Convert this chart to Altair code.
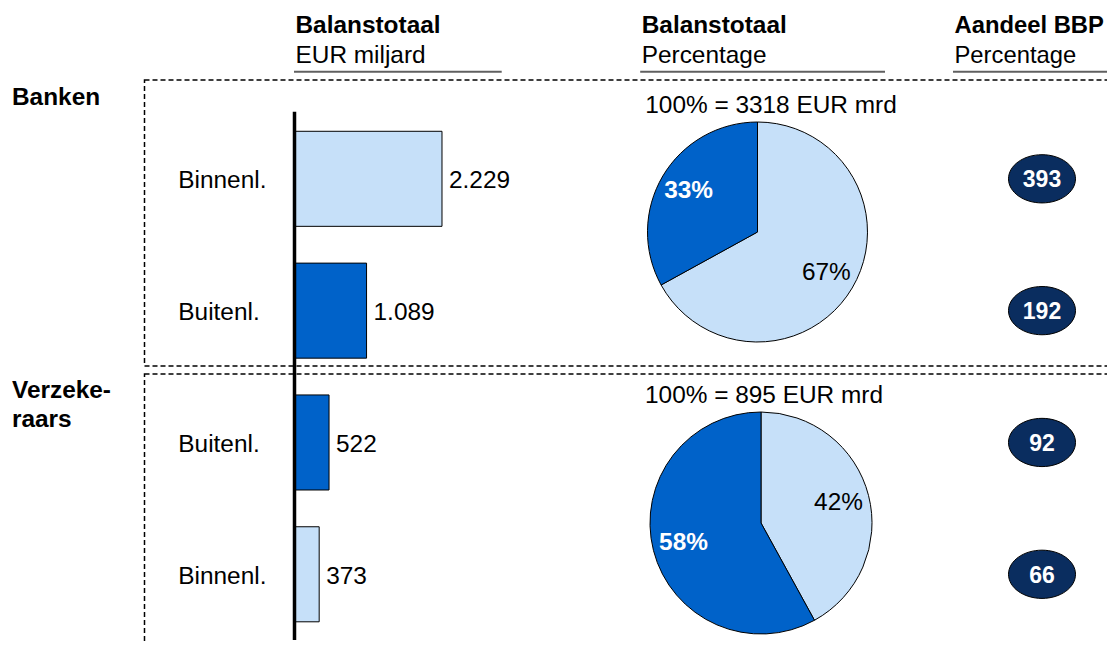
import altair as alt
import pandas as pd

# ---------------- data ----------------
row_ids = ["Banken_Binnenl", "Banken_Buitenl", "Verz_Buitenl", "Verz_Binnenl"]
row_types = ["Binnenl.", "Buitenl.", "Buitenl.", "Binnenl."]
balans_mrd = [2229, 1089, 522, 373]
aandeel_bbp = [393, 192, 92, 66]

sectors = ["Banken", "Verzekeraars"]
pie_totals = [3318, 895]
pct_binnen = [67, 42]
pct_buiten = [33, 58]

headers_bold = ["Balanstotaal", "Balanstotaal", "Aandeel BBP"]
headers_sub = ["EUR miljard", "Percentage", "Percentage"]
sector_labels = [["Banken"], ["Verzeke-", "raars"]]

# ---------------- style ----------------
LIGHT = "#C6E0F9"
DARK = "#0062C9"
NAVY = "#0A2D5F"
FONT = "Liberation Sans"
FS = 24.4


def M(v):
    # page pixel -> chart pixel (8px page margin)
    return v - 8


bars_df = pd.DataFrame({"id": row_ids, "type": row_types, "value": balans_mrd, "bbp": aandeel_bbp})

pie_rows = []
for s, pb, pu in zip(sectors, pct_binnen, pct_buiten):
    pie_rows.append({"sector": s, "type": "Binnenl.", "pct": pb, "ord": 0})
    pie_rows.append({"sector": s, "type": "Buitenl.", "pct": pu, "ord": 1})
pie_df = pd.DataFrame(pie_rows)
tot_df = pd.DataFrame({"sector": sectors, "total": pie_totals})
dummy = pd.DataFrame({"a": [1]})

yscale = alt.Scale(domain=row_ids, range=[M(112.9), M(640.2)], paddingInner=0.279, paddingOuter=0.1395)
xscale = alt.Scale(domain=[0, 3000], range=[M(294.5), M(294.5) + 198.5], nice=False)
cscale = alt.Scale(domain=["Binnenl.", "Buitenl."], range=[LIGHT, DARK])
Y = alt.Y("id:N", scale=yscale, axis=None)
X = alt.X("value:Q", scale=xscale, axis=None)

layers = []

# dashed boxes
for y0, y1 in [(80, 366), (374, 720)]:
    layers.append(
        alt.Chart(dummy).mark_rect(fillOpacity=0, stroke="black", strokeWidth=1.5, strokeDash=[5, 3]).encode(
            x=alt.value(M(144.5)), x2=alt.value(1300), y=alt.value(M(y0)), y2=alt.value(M(y1))
        )
    )

# headers
col_x = [295.5, 641.7, 954.5]
col_line_end = [501.7, 885, 1200]
col_fs = [FS, FS, 23.8]
for hb, hs, cx, xe, fs in zip(headers_bold, headers_sub, col_x, col_line_end, col_fs):
    layers.append(
        alt.Chart(dummy).mark_text(text=hb, font=FONT, fontSize=fs, fontWeight="bold", align="left",
                                   baseline="alphabetic", color="black").encode(
            x=alt.value(M(cx)), y=alt.value(M(33.3)))
    )
    layers.append(
        alt.Chart(dummy).mark_text(text=hs, font=FONT, fontSize=fs, align="left",
                                   baseline="alphabetic", color="black").encode(
            x=alt.value(M(cx)), y=alt.value(M(63.3)))
    )
    layers.append(
        alt.Chart(dummy).mark_rule(color="#606060", strokeWidth=2).encode(
            x=alt.value(M(cx - 1.5)), x2=alt.value(M(xe)), y=alt.value(M(71.7)))
    )

# sector labels
sector_y = [[105], [398.3, 426.7]]
for lines, ys in zip(sector_labels, sector_y):
    for t, yy in zip(lines, ys):
        layers.append(
            alt.Chart(dummy).mark_text(text=t, font=FONT, fontSize=FS, fontWeight="bold", align="left",
                                       baseline="alphabetic", color="black").encode(
                x=alt.value(M(12)), y=alt.value(M(yy)))
        )

# bars
layers.append(
    alt.Chart(bars_df).mark_bar(stroke="black", strokeWidth=1).encode(
        y=Y, x=X, color=alt.Color("type:N", scale=cscale, legend=None))
)
# value labels
layers.append(
    alt.Chart(bars_df).transform_calculate(
        vlabel="replace(format(datum.value, ','), ',', '.')"
    ).mark_text(font=FONT, fontSize=FS, align="left", baseline="alphabetic", dx=7, dy=9.5, color="black").encode(
        y=Y, x=X, text="vlabel:N")
)
# category labels
layers.append(
    alt.Chart(bars_df).mark_text(font=FONT, fontSize=FS, align="left", baseline="alphabetic", dy=9.5,
                                 color="black").encode(
        y=Y, x=alt.value(M(178.3)), text="type:N")
)
# axis line
layers.append(
    alt.Chart(dummy).mark_rule(color="black", strokeWidth=3.5).encode(
        x=alt.value(M(294.5)), y=alt.value(M(111.7)), y2=alt.value(M(640)))
)

# pies
pie_cx = [757.5, 761]
pie_cy = [232, 523]
pie_r = [110, 111]
title_x = [771, 764]
title_y = [113, 403]
for s, cx, cy, r, tx, ty in zip(sectors, pie_cx, pie_cy, pie_r, title_x, title_y):
    base = alt.Chart(pie_df).transform_filter(alt.datum.sector == s)
    enc = dict(
        theta=alt.Theta("pct:Q", stack=True),
        order=alt.Order("ord:Q"),
        x=alt.value(M(cx)),
        y=alt.value(M(cy)),
    )
    layers.append(
        base.mark_arc(outerRadius=r, stroke="black", strokeWidth=1).encode(
            color=alt.Color("type:N", scale=cscale, legend=None), **enc)
    )
    layers.append(
        base.transform_calculate(
            lab="datum.type == 'Binnenl.' ? datum.pct + '%' : ''"
        ).mark_text(radius=80, font=FONT, fontSize=FS, color="black", align="center", baseline="middle").encode(
            text="lab:N", **enc)
    )
    layers.append(
        base.transform_calculate(
            lab="datum.type == 'Buitenl.' ? datum.pct + '%' : ''"
        ).mark_text(radius=80, font=FONT, fontSize=FS, fontWeight="bold", color="white", align="center",
                    baseline="middle").encode(
            text="lab:N", **enc)
    )
    layers.append(
        alt.Chart(tot_df).transform_filter(alt.datum.sector == s).transform_calculate(
            t="'100% = ' + datum.total + ' EUR mrd'"
        ).mark_text(font=FONT, fontSize=FS, align="center", baseline="alphabetic", color="black").encode(
            x=alt.value(M(tx)), y=alt.value(M(ty)), text="t:N")
    )

# GDP ellipses
ELL = "M -1 0 A 1 0.72 0 1 1 1 0 A 1 0.72 0 1 1 -1 0 Z"
layers.append(
    alt.Chart(bars_df).mark_point(shape=ELL, size=67 * 67, filled=True, fill=NAVY, stroke="black",
                                  strokeWidth=1, opacity=1).encode(
        y=Y, x=alt.value(M(1042)))
)
layers.append(
    alt.Chart(bars_df).mark_text(font=FONT, fontSize=23, fontWeight="bold", color="white", align="center",
                                 baseline="alphabetic", dy=8.5).encode(
        y=Y, x=alt.value(M(1042)), text="bbp:Q")
)

chart = alt.layer(*layers).properties(
    width=1099, height=634, padding=0, autosize=alt.AutoSizeParams(type="none")
).configure_view(stroke=None)

chart.save("out.html", embed_options={"renderer": "svg", "actions": False})
